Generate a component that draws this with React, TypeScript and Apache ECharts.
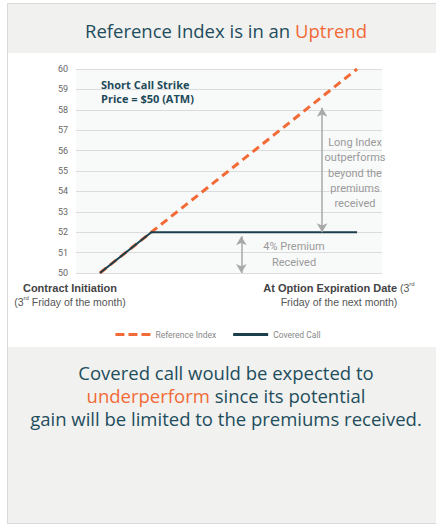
import { useEffect, useRef } from 'react';
import * as echarts from 'echarts';

// Time axis: 0 = contract initiation, 10 = option expiration
const periods = [0, 2, 10];
const referenceIndexValues = [50, 52, 60];
const coveredCallValues = [50, 52, 52];
const yMin = 50;
const yMax = 60;
const upsideArrow = [[8.64, 52], [8.64, 58.1]];
const premiumArrow = [[5.5, 51.8], [5.5, 50]];

const TEAL = '#1e4d5c';
const ORANGE = '#f26a36';
const DARK = '#1c3f4c';

export default function App() {
  const ref = useRef<HTMLDivElement>(null);
  useEffect(() => {
    if (!ref.current) return;
    const chart = echarts.init(ref.current, null, { renderer: 'svg' });
    const refData = periods.map((p, i) => [p, referenceIndexValues[i]]);
    const ccData = periods.map((p, i) => [p, coveredCallValues[i]]);
    chart.setOption({
      animation: false,
      backgroundColor: '#ffffff',
      grid: {
        left: 76,
        right: 54,
        top: 69,
        bottom: 254,
        show: true,
        backgroundColor: '#f8f9f9',
        borderWidth: 0,
      },
      xAxis: {
        type: 'value',
        min: -0.93,
        max: 10.97,
        show: false,
      },
      yAxis: {
        type: 'value',
        min: yMin,
        max: yMax,
        interval: 1,
        axisLine: { show: false },
        axisTick: { show: false },
        axisLabel: { color: '#666', fontSize: 9, margin: 8, fontFamily: 'Roboto' },
        splitLine: { lineStyle: { color: '#dcdcdc', width: 1 } },
      },
      legend: {
        top: 325,
        left: 'center',
        itemWidth: 35,
        itemHeight: 3,
        itemGap: 17,
        textStyle: { color: '#888', fontSize: 8.5, fontFamily: 'Roboto' },
        data: [
          { name: 'Reference Index', icon: 'path://M0,0h9v3h-9z M13,0h9v3h-9z M26,0h9v3h-9z' },
          { name: 'Covered Call', icon: 'path://M0,0h35v3h-35z' },
        ],
      },
      series: [
        {
          name: 'Reference Index',
          type: 'line',
          data: refData,
          symbol: 'none',
          lineStyle: { color: ORANGE, width: 3, type: [8, 5] },
          itemStyle: { color: ORANGE },
          z: 2,
        },
        {
          name: 'Covered Call',
          type: 'line',
          data: ccData,
          symbol: 'none',
          lineStyle: { color: DARK, width: 2 },
          itemStyle: { color: DARK },
          z: 3,
          markLine: {
            silent: true,
            symbol: ['arrow', 'arrow'],
            symbolSize: [8, 9],
            label: { show: false },
            lineStyle: { color: '#a9a9a9', width: 1.5, type: 'solid' },
            data: [
              [{ coord: upsideArrow[0] }, { coord: upsideArrow[1] }],
              [{ coord: premiumArrow[0] }, { coord: premiumArrow[1] }],
            ],
          },
        },
      ],
      graphic: [
        { type: 'rect', shape: { x: 7.5, y: 3.5, width: 440, height: 520 }, style: { fill: '#ffffff', stroke: '#d9d9d9', lineWidth: 1 }, z: -10 },
        { type: 'rect', shape: { x: 8, y: 4, width: 440, height: 49 }, style: { fill: '#f1f1f0' }, z: -9 },
        { type: 'rect', shape: { x: 8, y: 347, width: 440, height: 176 }, style: { fill: '#f1f1f0' }, z: -9 },
        {
          type: 'text', x: 226, y: 30,
          style: {
            text: '{a|Reference Index is in an }{b|Uptrend}',
            align: 'center', verticalAlign: 'middle',
            rich: {
              a: { fill: TEAL, fontSize: 18.5, fontFamily: 'Open Sans' },
              b: { fill: ORANGE, fontSize: 18.5, fontFamily: 'Open Sans' },
            },
          },
        },
        {
          type: 'text', x: 226, y: 361,
          style: {
            text: '{a|Covered call would be expected to}\n{b|underperform}{a| since its potential}\n{a|gain will be limited to the premiums received.}',
            align: 'center', verticalAlign: 'top',
            rich: {
              a: { fill: TEAL, fontSize: 18.5, fontFamily: 'Open Sans', lineHeight: 23 },
              b: { fill: ORANGE, fontSize: 18.5, fontFamily: 'Open Sans', lineHeight: 23 },
            },
          },
        },
        {
          type: 'text', x: 101, y: 77, z: 10,
          style: {
            text: 'Short Call Strike\nPrice = $50 (ATM)',
            fill: '#1d4a5a', fontSize: 11, fontWeight: 'bold', fontFamily: 'Open Sans',
            lineHeight: 14, align: 'left', verticalAlign: 'top',
          },
        },
        {
          type: 'text', x: 355, y: 135, z: 10,
          style: {
            text: 'Long Index\noutperforms\nbeyond the\npremiums\nreceived',
            fill: '#9a9a9a', fontSize: 11, fontFamily: 'Roboto',
            lineHeight: 15.3, align: 'center', verticalAlign: 'top',
          },
        },
        {
          type: 'text', x: 294, y: 238, z: 10,
          style: {
            text: '4% Premium\nReceived',
            fill: '#9a9a9a', fontSize: 11, fontFamily: 'Roboto',
            lineHeight: 16, align: 'center', verticalAlign: 'top',
          },
        },
        {
          type: 'text', x: 70, y: 281,
          style: {
            text: '{b|Contract Initiation}\n{r|(3}{s|rd}{r| Friday of the month)}',
            align: 'center', verticalAlign: 'top',
            rich: {
              b: { fill: '#444', fontSize: 11, fontWeight: 'bold', fontFamily: 'Liberation Sans', lineHeight: 14 },
              r: { fill: '#555', fontSize: 10.5, fontFamily: 'Liberation Sans', lineHeight: 14 },
              s: { fill: '#555', fontSize: 6, fontFamily: 'Liberation Sans', lineHeight: 14, verticalAlign: 'top' },
            },
          },
        },
        {
          type: 'text', x: 339, y: 281,
          style: {
            text: '{b|At Option Expiration Date}{r| (3}{s|rd}\n{r|Friday of the next month)}',
            align: 'center', verticalAlign: 'top',
            rich: {
              b: { fill: '#444', fontSize: 11, fontWeight: 'bold', fontFamily: 'Liberation Sans', lineHeight: 14 },
              r: { fill: '#555', fontSize: 10.5, fontFamily: 'Liberation Sans', lineHeight: 14 },
              s: { fill: '#555', fontSize: 6, fontFamily: 'Liberation Sans', lineHeight: 14, verticalAlign: 'top' },
            },
          },
        },
      ],
    });
    return () => chart.dispose();
  }, []);
  return (
    <div
      ref={ref}
      style={{ position: 'absolute', left: 0, top: 0, width: 436, height: 527 }}
    />
  );
}
